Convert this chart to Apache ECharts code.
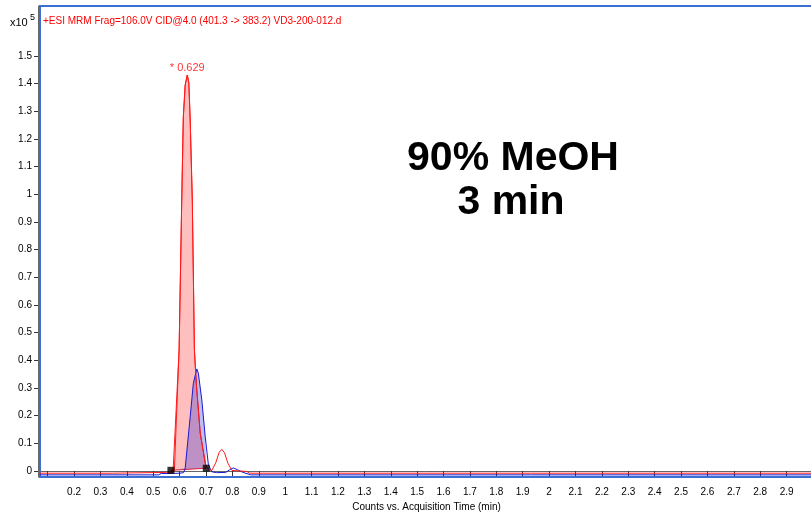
<!DOCTYPE html>
<html>
<head>
<meta charset="utf-8">
<script src="https://cdn.jsdelivr.net/npm/echarts@6/dist/echarts.min.js"></script>
<style>
  html, body { margin: 0; padding: 0; background: #fff; }
  #chart { width: 811px; height: 512px; }
</style>
</head>
<body>
<div id="chart"></div>
<script>
// chromatogram traces: [time (min), counts x10^5]
const redTrace = [
  [0.07, -0.008], [0.345, -0.008], [0.35, -0.005], [0.55, -0.005], [0.575, -0.004],
  [0.58, 0.0], [0.598, 0.437], [0.608, 0.979], [0.614, 1.279], [0.621, 1.395],
  [0.629, 1.431], [0.635, 1.402], [0.64, 1.268], [0.648, 0.979], [0.656, 0.437],
  [0.663, 0.318], [0.678, 0.137], [0.697, 0.029], [0.703, 0.012], [0.712, 0.004],
  [0.722, 0.002], [0.737, 0.03], [0.75, 0.068], [0.76, 0.078], [0.77, 0.066],
  [0.783, 0.028], [0.798, 0.002], [0.83, 0.0], [0.855, -0.002], [0.865, -0.008],
  [3.0, -0.008]
]
const blueTrace = [
  [0.07, -0.014], [0.52, -0.014], [0.53, -0.009], [0.56, -0.009], [0.6, -0.008],
  [0.615, -0.006], [0.621, 0.01], [0.64, 0.196], [0.652, 0.317], [0.665, 0.369],
  [0.671, 0.353], [0.684, 0.257], [0.697, 0.124], [0.709, 0.022], [0.722, -0.003],
  [0.74, -0.006], [0.775, -0.005], [0.79, 0.005], [0.804, 0.011], [0.82, 0.004],
  [0.84, -0.005], [0.87, -0.014], [3.0, -0.014]
]
// integration baseline points (black squares)
const baselinePoints = [[0.567, 0.0025], [0.701, 0.01]]
const peakPoint = [0.629, 1.431]
const peakLabel = "* 0.629"

const xTicks = [0.1, 0.2, 0.3, 0.4, 0.5, 0.6, 0.7, 0.8, 0.9, 1, 1.1, 1.2, 1.3, 1.4, 1.5,
  1.6, 1.7, 1.8, 1.9, 2, 2.1, 2.2, 2.3, 2.4, 2.5, 2.6, 2.7, 2.8, 2.9, 3]
const xLabels = [0.2, 0.3, 0.4, 0.5, 0.6, 0.7, 0.8, 0.9, 1, 1.1, 1.2, 1.3, 1.4, 1.5,
  1.6, 1.7, 1.8, 1.9, 2, 2.1, 2.2, 2.3, 2.4, 2.5, 2.6, 2.7, 2.8, 2.9]
const yTicks = [0, 0.1, 0.2, 0.3, 0.4, 0.5, 0.6, 0.7, 0.8, 0.9, 1, 1.1, 1.2, 1.3, 1.4, 1.5]

const titleText = "+ESI MRM Frag=106.0V CID@4.0 (401.3 -> 383.2) VD3-200-012.d"
const noteLines = ["90% MeOH", "3 min"]

const FONT = "Liberation Sans, Arial, sans-serif"
const RED = "#ff1a1a"
const BLUE = "#1a1ad2"
const FRAME = "#3b6fd1"

const fmt = v => String(Math.round(v * 10) / 10)

// filled peak between the curve and the integration baseline
const peakFill = (trace, fill, stroke) => {
  const [a, b] = baselinePoints
  const pts = trace.filter(p => p[0] >= a[0] && p[0] <= b[0] && p[1] >= 0)
  return {
    type: "custom",
    z: 1,
    silent: true,
    data: [a],
    renderItem: (params, api) => ({
      type: "polygon",
      shape: { points: [api.coord(a)].concat(pts.map(p => api.coord(p)), [api.coord(b)]) },
      style: { fill: fill, stroke: stroke || null, lineWidth: 1 }
    })
  }
}

const chart = echarts.init(document.getElementById("chart"))
chart.setOption({
  animation: false,
  grid: {
    left: 40, top: 6, right: -2, bottom: 35,
    outerBoundsMode: "none", containLabel: false,
    show: true, borderColor: FRAME, borderWidth: 2, backgroundColor: "#fff"
  },
  xAxis: {
    type: "value", min: 0.0709, max: 3.0, offset: 2,
    name: "Counts vs. Acquisition Time (min)", nameLocation: "middle", nameGap: 22,
    nameTextStyle: { fontFamily: FONT, fontSize: 10, color: "#000" },
    axisLine: { show: true, lineStyle: { color: "#666", width: 1 } },
    axisTick: { show: true, inside: false, length: 5, customValues: xTicks, lineStyle: { color: "#333" } },
    axisLabel: { customValues: xLabels, formatter: fmt, fontFamily: FONT, fontSize: 10, color: "#000", margin: 8 },
    splitLine: { show: false }
  },
  yAxis: {
    type: "value", min: -0.0217, max: 1.6805, offset: 2,
    axisLine: { show: true, lineStyle: { color: "#666", width: 1 } },
    axisTick: { show: true, inside: false, length: 4, customValues: yTicks, lineStyle: { color: "#333" } },
    axisLabel: { customValues: yTicks, formatter: fmt, fontFamily: FONT, fontSize: 10, color: "#000", margin: 6 },
    splitLine: { show: false }
  },
  graphic: [
    { type: "text", left: 10, top: 17, style: { text: "x10", font: "11px " + FONT, fill: "#000" } },
    { type: "text", left: 30, top: 13, style: { text: "5", font: "9px " + FONT, fill: "#000" } },
    { type: "text", left: 43, top: 16, style: { text: titleText, font: "10px " + FONT, fill: "#ff0000" } },
    { type: "text", x: 513, y: 159, style: { text: noteLines[0], font: "bold 41px " + FONT, fill: "#000", align: "center", verticalAlign: "middle" } },
    { type: "text", x: 511, y: 203, style: { text: noteLines[1], font: "bold 41px " + FONT, fill: "#000", align: "center", verticalAlign: "middle" } }
  ],
  series: [
    peakFill(redTrace, "rgba(255,0,0,0.25)", RED),
    peakFill(blueTrace, "rgba(40,40,210,0.3)"),
    {
      type: "line", data: redTrace, showSymbol: false, z: 3,
      lineStyle: { color: RED, width: 1 }, silent: true
    },
    {
      type: "line", data: blueTrace, showSymbol: false, z: 2,
      lineStyle: { color: BLUE, width: 1 }, silent: true
    },
    {
      type: "scatter", data: baselinePoints, symbol: "rect", symbolSize: 7, z: 4,
      itemStyle: { color: "#000" }, silent: true
    },
    {
      type: "scatter", data: [peakPoint], symbolSize: 1, z: 4, silent: true,
      itemStyle: { color: "rgba(0,0,0,0)" },
      label: {
        show: true, position: "top", distance: 1, formatter: peakLabel,
        fontFamily: FONT, fontSize: 11, color: "#ff0000"
      }
    }
  ]
})
</script>
</body>
</html>
